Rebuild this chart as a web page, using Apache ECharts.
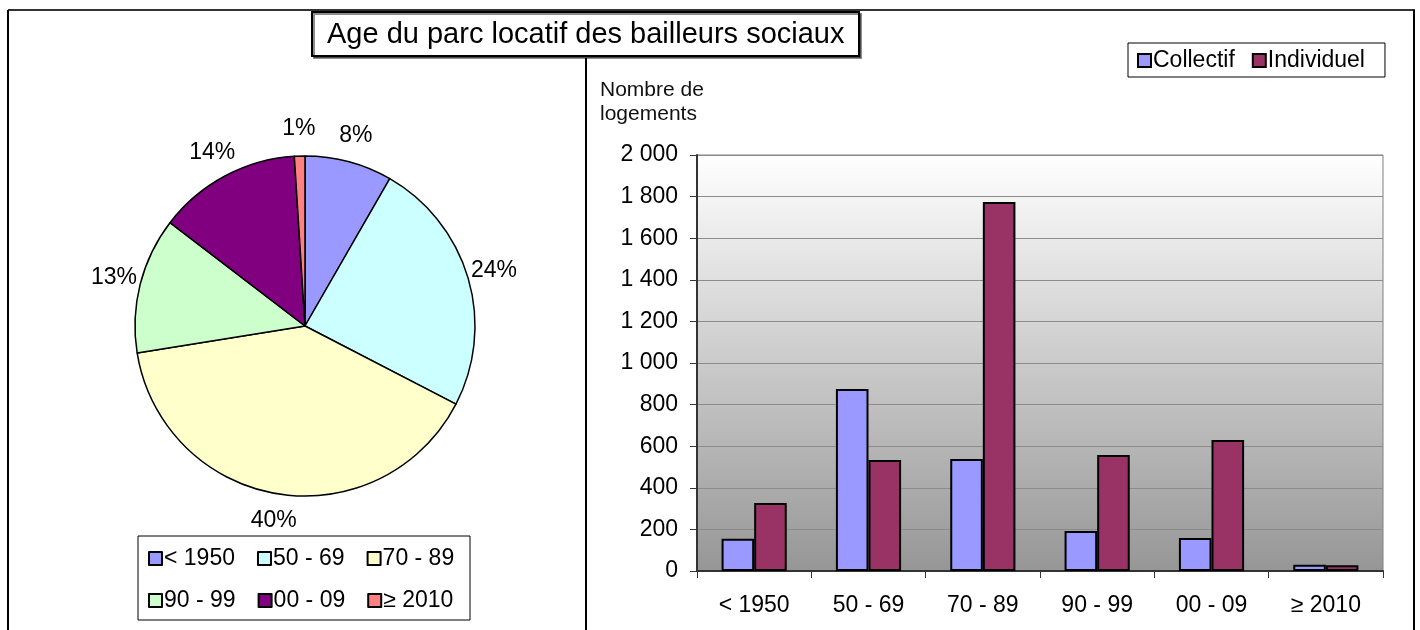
<!DOCTYPE html>
<html>
<head>
<meta charset="utf-8">
<title>Age du parc locatif des bailleurs sociaux</title>
<script src="https://cdn.jsdelivr.net/npm/echarts@6/dist/echarts.min.js"></script>
<style>
  html, body { margin: 0; padding: 0; background: #fff; }
  #chart { width: 1420px; height: 630px; }
</style>
</head>
<body>
<div id="chart"></div>
<script>
// periods of construction
const periods = ['< 1950', '50 - 69', '70 - 89', '90 - 99', '00 - 09', '≥ 2010'];
// dwellings per period
const collectif = [155, 875, 538, 192, 159, 30];
const individuel = [327, 534, 1774, 558, 630, 28];
const pieColors = ['#9999FF', '#CCFFFF', '#FFFFCC', '#CCFFCC', '#800080', '#FF8080'];

const font = 'Liberation Sans, Arial, sans-serif';

// pie = share of all dwellings by period
const pieData = periods.map((p, i) => ({
  name: p,
  value: collectif[i] + individuel[i],
  itemStyle: { color: pieColors[i] }
}));

const chart = echarts.init(document.getElementById('chart'));

const legendText = { fontSize: 23, color: '#000', padding: [0, 0, 0, -3] };

const option = {
  animation: false,
  textStyle: { fontFamily: font },
  title: {
    text: 'Age du parc locatif des bailleurs sociaux',
    left: 312,
    top: 12,
    padding: [8, 15, 7, 15],
    borderColor: '#000',
    borderWidth: 2,
    backgroundColor: '#fff',
    shadowColor: 'rgba(0,0,0,0.45)',
    shadowOffsetX: 2,
    shadowOffsetY: 2,
    textStyle: { fontFamily: font, fontSize: 29, fontWeight: 'normal', color: '#000' },
    z: 10
  },
  legend: [
    {
      data: periods.slice(0, 3),
      left: 148,
      top: 547,
      padding: 0,
      itemWidth: 13,
      itemHeight: 13,
      itemGap: 22,
      icon: 'rect',
      textStyle: legendText,
      selectedMode: false
    },
    {
      data: periods.slice(3),
      left: 148,
      top: 589,
      padding: 0,
      itemWidth: 13,
      itemHeight: 13,
      itemGap: 22,
      icon: 'rect',
      textStyle: legendText,
      selectedMode: false
    },
    {
      data: ['Collectif', 'Individuel'],
      left: 1128,
      top: 43,
      padding: [6, 20, 5, 9],
      itemWidth: 13,
      itemHeight: 13,
      itemGap: 17,
      icon: 'rect',
      borderColor: '#000',
      borderWidth: 1,
      backgroundColor: '#fff',
      textStyle: legendText,
      selectedMode: false
    }
  ],
  grid: {
    left: 697,
    right: 37,
    top: 155,
    bottom: 59,
    show: true,
    borderColor: '#808080',
    borderWidth: 1,
    backgroundColor: new echarts.graphic.LinearGradient(0, 0, 0, 1, [
      { offset: 0, color: '#ffffff' },
      { offset: 1, color: '#969696' }
    ])
  },
  xAxis: {
    type: 'category',
    data: periods,
    axisLine: { lineStyle: { color: '#333', width: 2 } },
    axisTick: { show: true, length: 7, lineStyle: { color: '#333' } },
    axisLabel: { fontSize: 23, color: '#000', margin: 23 }
  },
  yAxis: {
    type: 'value',
    min: 0,
    max: 2000,
    interval: 200,
    name: 'Nombre de\nlogements',
    nameLocation: 'end',
    nameGap: 29,
    nameTextStyle: {
      fontSize: 21,
      color: '#111',
      align: 'left',
      verticalAlign: 'bottom',
      lineHeight: 24,
      padding: [0, 0, 0, -97]
    },
    axisLine: { show: true, lineStyle: { color: '#333', width: 2 } },
    axisTick: { show: true, length: 7, lineStyle: { color: '#333' } },
    axisLabel: {
      fontSize: 23,
      color: '#000',
      margin: 19,
      formatter: v => String(v).replace(/\B(?=(\d{3})+(?!\d))/g, ' ')
    },
    splitLine: { lineStyle: { color: '#8c8c8c', width: 1 } }
  },
  series: [
    {
      type: 'pie',
      center: [305, 326],
      radius: 170,
      startAngle: 90,
      clockwise: true,
      data: pieData,
      itemStyle: { borderColor: '#000', borderWidth: 1.5 },
      label: { show: false },
      labelLine: { show: false },
      emphasis: { disabled: true }
    },
    {
      // invisible ring around the pie that carries the centred percent labels
      type: 'pie',
      center: [305, 326],
      radius: [170, 218],
      startAngle: 90,
      clockwise: true,
      silent: true,
      data: pieData.map(d => ({ name: d.name, value: d.value })),
      percentPrecision: 0,
      itemStyle: { color: 'rgba(0,0,0,0)', borderWidth: 0 },
      label: {
        show: true,
        position: 'inside',
        formatter: '{d}%',
        fontSize: 23,
        color: '#000'
      },
      labelLine: { show: false },
      emphasis: { disabled: true }
    },
    {
      name: 'Collectif',
      type: 'bar',
      data: collectif,
      barGap: '0%',
      barCategoryGap: '43%',
      itemStyle: { color: '#9999FF', borderColor: '#000', borderWidth: 2 }
    },
    {
      name: 'Individuel',
      type: 'bar',
      data: individuel,
      itemStyle: { color: '#993366', borderColor: '#000', borderWidth: 2 }
    }
  ],
  graphic: [
    // outer frame and divider between the two charts
    { type: 'line', shape: { x1: 8, y1: 10, x2: 1415, y2: 10 }, style: { stroke: '#333', lineWidth: 2 }, z: -1 },
    { type: 'line', shape: { x1: 8, y1: 10, x2: 8, y2: 630 }, style: { stroke: '#000', lineWidth: 2 }, z: -1 },
    { type: 'line', shape: { x1: 1414, y1: 10, x2: 1414, y2: 630 }, style: { stroke: '#000', lineWidth: 2 }, z: -1 },
    { type: 'line', shape: { x1: 586, y1: 58, x2: 586, y2: 630 }, style: { stroke: '#000', lineWidth: 2 }, z: -1 },
    // pie legend box
    { type: 'rect', shape: { x: 138, y: 536, width: 332, height: 84 }, style: { fill: '#fff', stroke: '#000', lineWidth: 1 }, z: -1 }
  ]
};

chart.setOption(option);
</script>
</body>
</html>
